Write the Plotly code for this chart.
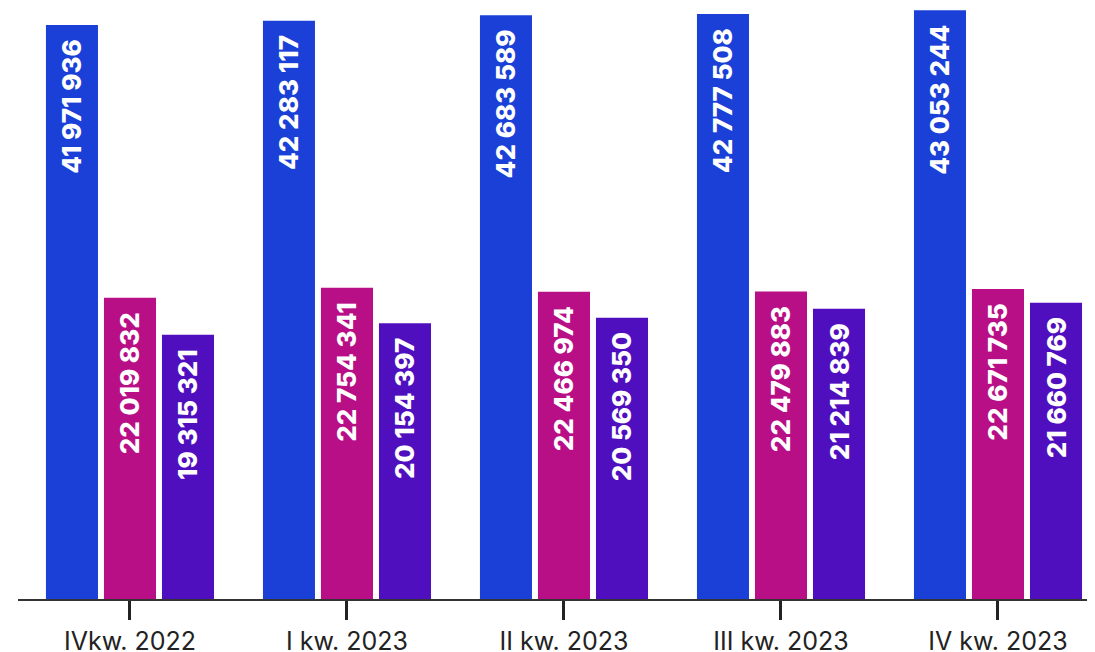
import plotly.graph_objects as go

categories = ["IVkw. 2022", "I kw. 2023", "II kw. 2023", "III kw. 2023", "IV kw. 2023"]
series_a = [41971936, 42283117, 42683589, 42777508, 43053244]
series_b = [22019832, 22754341, 22466974, 22479883, 22671735]
series_c = [19315321, 20154397, 20569350, 21214839, 21660769]
colors = ["#1a40d7", "#b80f86", "#500fbf"]


def fmt(v):
    return f"{v:,}".replace(",", " ") + "\u00a0\u00a0"


fig = go.Figure()
for vals, col in zip([series_a, series_b, series_c], colors):
    fig.add_trace(go.Bar(
        x=categories, y=vals, marker=dict(color=col, line=dict(width=0)),
        text=[fmt(v) for v in vals], textposition="inside", insidetextanchor="end",
        textangle=-90, textfont=dict(family="Inter", size=26, color="white", weight=800),
        cliponaxis=False, hoverinfo="skip",
    ))

fig.update_layout(
    width=1087, height=644, barmode="group", bargap=0.198, bargroupgap=0.103,
    margin=dict(l=10, r=5, t=0, b=53, autoexpand=False), showlegend=False,
    plot_bgcolor="white", paper_bgcolor="white",
    uniformtext=dict(mode=False),
    xaxis=dict(range=[-0.516, 4.424], showline=True, linecolor="#333", linewidth=1.5,
               ticks="outside", ticklen=19, tickwidth=3, tickcolor="#222", automargin=False,
               tickfont=dict(family="Inter", size=25, color="#222"), showgrid=False),
    yaxis=dict(range=[0, 43.21e6], visible=False, showgrid=False, automargin=False),
)
fig.write_html("out.html")
